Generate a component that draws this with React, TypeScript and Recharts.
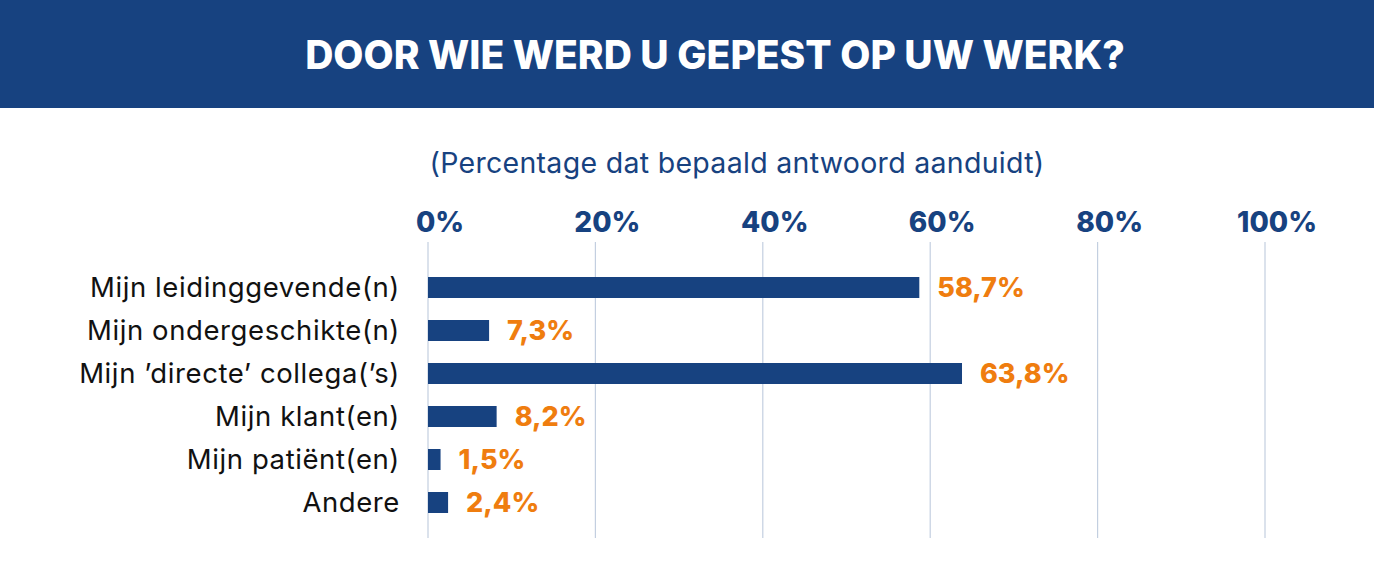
import React from "react"
import { BarChart, Bar, XAxis, YAxis, CartesianGrid, LabelList } from "recharts"

const categories = [
  "Mijn leidinggevende(n)",
  "Mijn ondergeschikte(n)",
  "Mijn \u2019directe\u2019 collega(\u2019s)",
  "Mijn klant(en)",
  "Mijn pati\u00ebnt(en)",
  "Andere",
]
const percentages = [58.7, 7.3, 63.8, 8.2, 1.5, 2.4]
const axisTicks = [0, 20, 40, 60, 80, 100]

const title = "DOOR WIE WERD U GEPEST OP UW WERK?"
const subtitle = "(Percentage dat bepaald antwoord aanduidt)"

const BLUE = "#174280"
const ORANGE = "#ef7d0f"
const FONT = "Inter, 'Noto Sans', sans-serif"

const data = categories.map((name, i) => ({ name, value: percentages[i] }))

const fmt = (v: number) => v.toFixed(1).replace(".", ",") + "%"

const App: React.FC = () => {
  return (
    <div style={{ position: "absolute", top: 0, left: 0, width: 1374, height: 570, background: "#fff", fontFamily: FONT }}>
      <div
        style={{
          height: 108,
          background: BLUE,
          color: "#fff",
          display: "flex",
          alignItems: "center",
          justifyContent: "center",
          fontWeight: 800,
          fontSize: 39,
          paddingLeft: 56,
        }}
      >
        {title}
      </div>
      <div
        style={{
          position: "absolute",
          top: 145,
          left: 0,
          width: 1474,
          textAlign: "center",
          color: BLUE,
          fontSize: 28.5,
          letterSpacing: 0.3,
        }}
      >
        {subtitle}
      </div>
      <div style={{ position: "absolute", top: 0, left: 0 }}>
        <BarChart
          width={1374}
          height={570}
          data={data}
          layout="vertical"
          margin={{ top: 202, right: 109, bottom: 32, left: 0 }}
        >
          <CartesianGrid horizontal={false} stroke="#c3cfe0" strokeWidth={1.2} />
          <XAxis
            type="number"
            orientation="top"
            domain={[0, 100]}
            ticks={axisTicks}
            tickFormatter={(v: number) => `${v}%`}
            axisLine={false}
            tickLine={false}
            tickMargin={4}
            height={40}
            tick={{ fill: BLUE, fontSize: 28, fontWeight: 800, fontFamily: FONT, dx: 12 }}
          />
          <YAxis
            type="category"
            dataKey="name"
            width={428}
            axisLine={false}
            tickLine={false}
            tickSize={0}
            tickMargin={28}
            padding={{ top: 24, bottom: 14 }}
            interval={0}
            tick={{ fill: "#111", fontSize: 27.5, fontFamily: FONT, letterSpacing: 0.6 }}
          />
          <Bar dataKey="value" fill={BLUE} barSize={21} isAnimationActive={false}>
            <LabelList
              dataKey="value"
              position="right"
              offset={18}
              formatter={(v: number) => fmt(v)}
              style={{ fill: ORANGE, fontSize: 27, fontWeight: 800, fontFamily: FONT }}
            />
          </Bar>
        </BarChart>
      </div>
    </div>
  )
}

export default App
